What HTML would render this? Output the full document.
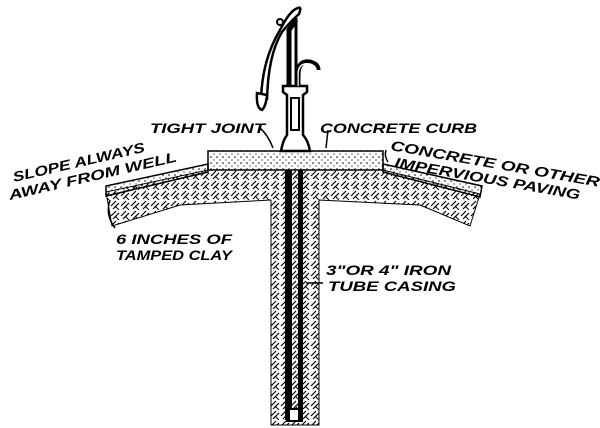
<!DOCTYPE html>
<html><head><meta charset="utf-8"><style>
html,body{margin:0;padding:0;background:#fff;}
svg{display:block;}
text{font-family:"Liberation Sans",sans-serif;font-weight:bold;font-style:italic;font-size:14px;fill:#000;}
</style></head><body>
<svg width="600" height="428" viewBox="0 0 600 428" xmlns="http://www.w3.org/2000/svg">
<defs>
<pattern id="h" width="10" height="10" patternUnits="userSpaceOnUse">
<path d="M1 6L6 1M3 9L9 3" stroke="#000" stroke-width="1.2"/>
<path d="M5 6L9 10" stroke="#000" stroke-width="1"/>
</pattern>
<pattern id="dots" width="6" height="6" patternUnits="userSpaceOnUse">
<circle cx="1" cy="1" r="0.8"/><circle cx="4" cy="4" r="0.6"/>
</pattern>
</defs>
<path d="M106 192 L208 170 L383 170 L480 194 L470 226 L420 205 L319 200 L319 425 L271 425 L271 200 L180 205 L112 226 Z" fill="url(#h)" stroke="#000" stroke-width="1"/>
<path d="M106 186 L208 164 L208 172 L106 196 Z" fill="url(#dots)" stroke="#000" stroke-width="1.5"/>
<path d="M383 164 L482 186 L480 197 L383 172 Z" fill="url(#dots)" stroke="#000" stroke-width="1.5"/>
<rect x="208" y="151" width="175" height="19" fill="url(#dots)" stroke="#000" stroke-width="1.5"/>
<rect x="285" y="170" width="7" height="250" fill="#000"/>
<rect x="298" y="170" width="5" height="250" fill="#000"/>
<rect x="286" y="408" width="17" height="14" fill="#000"/>
<rect x="290" y="410" width="8" height="10" fill="#fff"/>
<path d="M281 151 Q283 140 287 135 L287 95 L283 92 L283 86 L307 86 L307 92 L303 95 L303 135 Q308 140 310 151 Z" fill="#fff" stroke="#000" stroke-width="2.5"/>
<rect x="291" y="98" width="8" height="32" fill="#fff" stroke="#000" stroke-width="2"/>
<path d="M289 86 L289 30 L296 20" fill="none" stroke="#000" stroke-width="5"/>
<path d="M298 86 L298 75 Q298 60 310 62 Q318 64 318 70" fill="none" stroke="#000" stroke-width="5"/>
<path d="M298 86 L298 75 Q298 62 310 64 Q316 66 316 70" fill="none" stroke="#fff" stroke-width="1.5"/>
<path d="M296 86 L296 18" fill="none" stroke="#000" stroke-width="3"/>
<path d="M261 100 Q262 60 280 30 Q290 10 298 8 Q302 6 299 14 Q290 22 282 32 Q268 55 267 100" fill="#fff" stroke="#000" stroke-width="2.5"/>
<path d="M257 93 Q256 108 262 110 Q266 106 267 95 Z" fill="#fff" stroke="#000" stroke-width="2.5"/>
<circle cx="280" cy="22" r="3" fill="#fff" stroke="#000" stroke-width="2"/>
<path d="M260 128 Q268 135 273 148" fill="none" stroke="#000" stroke-width="1.5"/>
<path d="M328 130 L326 148" fill="none" stroke="#000" stroke-width="1.5"/>
<path d="M388 162 Q384 156 386 150" fill="none" stroke="#000" stroke-width="1.5"/>
<path d="M115 228 Q105 215 110 200" fill="none" stroke="#000" stroke-width="1.5"/>
<path d="M323 283 L306 283" fill="none" stroke="#000" stroke-width="1.5"/>
<text x="150" y="133" textLength="115" lengthAdjust="spacingAndGlyphs">TIGHT JOINT</text>
<text x="320" y="133" textLength="157" lengthAdjust="spacingAndGlyphs">CONCRETE CURB</text>
<text x="14" y="182" transform="rotate(-13 14 182)" textLength="135" lengthAdjust="spacingAndGlyphs">SLOPE ALWAYS</text>
<text x="10" y="200" transform="rotate(-13 10 200)" textLength="172" lengthAdjust="spacingAndGlyphs">AWAY FROM WELL</text>
<text x="390" y="150" transform="rotate(10 390 150)" textLength="212" lengthAdjust="spacingAndGlyphs">CONCRETE OR OTHER</text>
<text x="394" y="167" transform="rotate(10 394 167)" textLength="188" lengthAdjust="spacingAndGlyphs">IMPERVIOUS PAVING</text>
<text x="116" y="244" textLength="116" lengthAdjust="spacingAndGlyphs">6 INCHES OF</text>
<text x="116" y="260" textLength="116" lengthAdjust="spacingAndGlyphs">TAMPED CLAY</text>
<text x="326" y="275" textLength="125" lengthAdjust="spacingAndGlyphs">3"OR 4" IRON</text>
<text x="328" y="291" textLength="128" lengthAdjust="spacingAndGlyphs">TUBE CASING</text>
</svg>
</body></html>
